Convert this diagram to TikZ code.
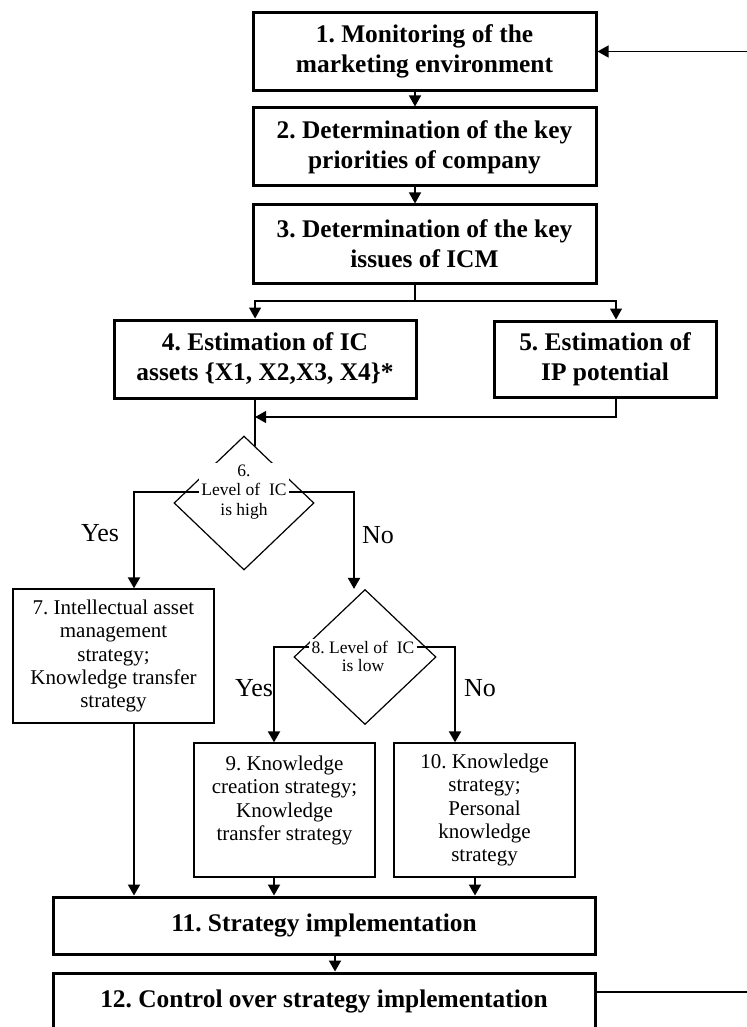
\documentclass[tikz,border=0pt]{standalone}
\usepackage{fontspec}
\setmainfont{Liberation Serif}
\usetikzlibrary{shapes.geometric,arrows.meta,calc}
\frenchspacing

\begin{document}
\begin{tikzpicture}[x=0.5pt,y=-0.5pt,
    stage/.style={rectangle, draw, line width=1.5pt, align=center, inner sep=0pt, font=\fontsize{12.7}{15}\selectfont\bfseries},
    strat/.style={rectangle, draw, line width=0.65pt, align=center, inner sep=0pt, font=\fontsize{10.5}{11.7}\selectfont},
    decision/.style={diamond, draw, line width=0.6pt, inner sep=0pt, aspect=1},
    dtext/.style={fill=white, inner sep=1pt, align=center, font=\fontsize{8.75}{9.75}\selectfont},
    answer/.style={font=\fontsize{13}{15}\selectfont},
    flow/.style={-{Triangle[length=5.5pt,width=6pt]}, line width=1pt},
    thinflow/.style={-{Triangle[length=5.5pt,width=6pt]}, line width=0.65pt},
    link/.style={line width=0.65pt}
]
    \useasboundingbox (0,0) rectangle (746,1027);

    \node[stage, minimum width=171.5pt, minimum height=39pt] (b1) at (424.5,51.5) {1. Monitoring of the\\marketing environment};
    \node[stage, minimum width=171.5pt, minimum height=39pt] (b2) at (424.5,147) {2. Determination of the key\\priorities of company};
    \node[stage, minimum width=171.5pt, minimum height=39pt] (b3) at (424.5,244) {3. Determination of the key\\issues of ICM};
    \node[stage, minimum width=151pt, minimum height=39pt] (b4) at (265,359) {4. Estimation of IC\\assets \{X1, X2,X3, X4\}*};
    \node[stage, minimum width=111pt, minimum height=38pt] (b5) at (605,359) {5. Estimation of\\IP potential};

    \node[decision, minimum width=70pt, minimum height=67pt] (d6) at (244,503) {};
    \node[dtext] (d6t) at (244,492) {6.\\Level of \ IC\\is high};
    \node[decision, minimum width=71pt, minimum height=67.5pt] (d8) at (365,657) {};
    \node[dtext] (d8a) at (363,647) {8. Level of \ IC};
    \node[dtext, fill=none] (d8b) at (363,666) {is low};

    \node[strat, minimum width=100.5pt, minimum height=67pt] (b7) at (113.5,656) {7. Intellectual asset\\management\\strategy;\\Knowledge transfer\\strategy};
    \node[strat, minimum width=90.5pt, minimum height=67pt] (b9) at (284.5,810) {9. Knowledge\\creation strategy;\\Knowledge\\transfer strategy\\\mbox{}};
    \node[strat, minimum width=90.5pt, minimum height=67pt] (b10) at (484.5,810) {10. Knowledge\\strategy;\\Personal\\knowledge\\strategy};
    \node[stage, minimum width=271pt, minimum height=28.5pt] (b11) at (324,925.5) {11. Strategy implementation};
    \node[stage, minimum width=271pt, minimum height=28.5pt] (b12) at (324,1001.5) {12. Control over strategy implementation};

    \node[answer] (yes6) at (100,533) {Yes};
    \node[answer] (no6) at (378,535) {No};
    \node[answer] (yes8) at (254,688) {Yes};
    \node[answer] (no8) at (480,688) {No};

    % lanes of the connectors
    \coordinate (axis) at (415,301);
    \coordinate (join) at ($(d6.north)!0.157!(d6.east)$);
    \coordinate (right5) at (616,417);
    \coordinate (lane7) at (134,800);
    \coordinate (lane8) at (354,560);
    \coordinate (lane9) at (274,800);
    \coordinate (lane10) at (455,800);
    \coordinate (out10) at (475,880);
    \coordinate (lane11) at (335,960);
    \coordinate (back) at (765,992);

    \draw[thinflow] (b1.south -| axis) -- (b2.north -| axis);
    \draw[thinflow] (b2.south -| axis) -- (b3.north -| axis);
    \draw[thinflow] (b3.south -| axis) -- (axis) -| (b4.north -| join);
    \draw[thinflow] (axis) -| (b5.north -| right5);
    \draw[link] (b4.south -| join) -- (join);
    \draw[thinflow] (b5.south -| right5) -- (right5) -- (right5 -| join);

    \draw[flow] (d6t.west) -| (b7.north -| lane7);
    \draw[flow] (d6t.east) -| (d8.north -| lane8);
    \draw[flow] (d8a.west) -| (b9.north -| lane9);
    \draw[flow] (d8a.east) -| (b10.north -| lane10);

    \draw[flow] (b7.south -| lane7) -- (b11.north -| lane7);
    \draw[flow] (b9.south -| lane9) -- (b11.north -| lane9);
    \draw[flow] (b10.south -| out10) -- (b11.north -| out10);
    \draw[flow] (b11.south -| lane11) -- (b12.north -| lane11);

    \draw[thinflow] (back -| b12.east) -- (back) |- (b1.east);
\end{tikzpicture}
\end{document}
